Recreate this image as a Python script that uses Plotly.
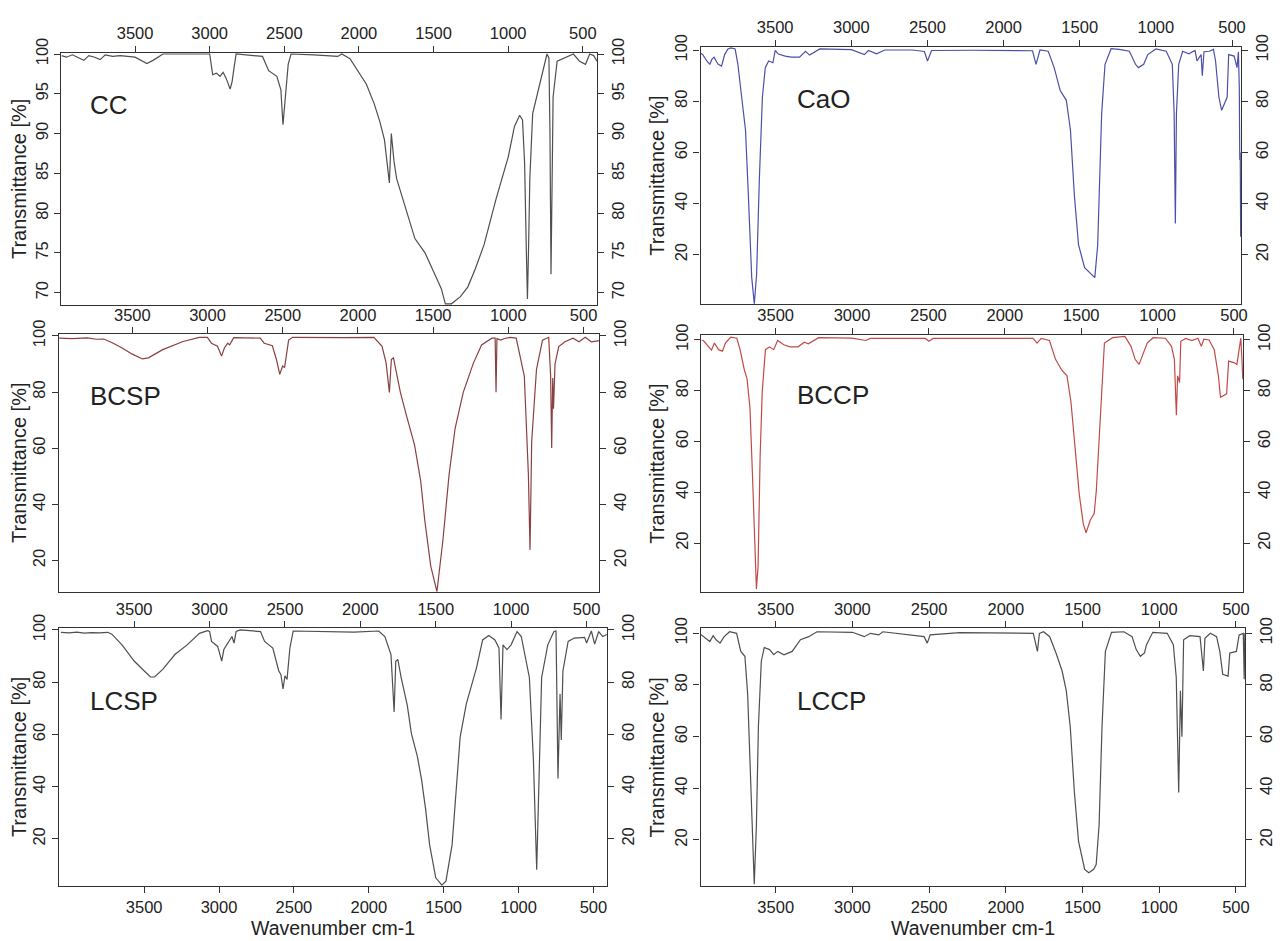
import plotly.graph_objects as go

# FTIR spectra: (wavenumber cm-1, transmittance %)
cc = [(3993, 99.8), (3960, 99.6), (3920, 99.9), (3880, 99.5), (3843, 99.2), (3810, 99.8), (3770, 99.6),
      (3734, 99.3), (3700, 99.9), (3650, 99.7), (3600, 99.8), (3500, 99.6), (3450, 99.1), (3421, 98.8),
      (3380, 99.2), (3313, 100), (3000, 100), (2980, 97.4), (2955, 97.6), (2931, 97.2), (2910, 97.7),
      (2891, 97.0), (2863, 95.6), (2850, 96.5), (2835, 98.5), (2823, 100), (2646, 99.7), (2605, 97.9),
      (2550, 97.2), (2523, 95.5), (2509, 91.1), (2496, 94.1), (2474, 98.7), (2455, 100), (2300, 99.9),
      (2142, 99.7), (2115, 100), (2060, 99.4), (2006, 97.9), (1950, 96.2), (1897, 93.7), (1860, 91.5),
      (1829, 89.2), (1810, 86.5), (1796, 83.8), (1783, 90.0), (1765, 86.5), (1747, 84.3), (1710, 82.0),
      (1679, 80.1), (1625, 76.8), (1557, 75.0), (1520, 73.5), (1489, 72.1), (1448, 70.5), (1421, 68.6),
      (1380, 68.6), (1320, 69.5), (1271, 70.7), (1220, 73.0), (1162, 76.0), (1081, 81.8), (999, 87.1),
      (958, 90.9), (923, 92.3), (904, 91.7), (890, 86.3), (878, 75.0), (871, 69.2), (863, 76.0),
      (855, 84.3), (836, 92.5), (781, 96.6), (740, 100), (727, 99.5), (720, 90.0), (713, 72.3),
      (706, 85.0), (699, 94.6), (672, 99.1), (591, 99.7), (563, 100), (522, 99.1), (482, 98.7),
      (454, 100), (427, 99.8), (405, 99.1)]

cao = [(3988, 98.8), (3976, 98.3), (3945, 95.5), (3929, 94.5), (3915, 96.5), (3901, 97.3), (3885, 95.5),
       (3874, 94.5), (3852, 93.8), (3832, 98.3), (3810, 100.5), (3791, 100.9), (3763, 100.5), (3745, 94.5),
       (3720, 81.6), (3695, 68.8), (3676, 43.1), (3654, 11.0), (3637, 0.7), (3622, 12.3), (3604, 49.5),
       (3584, 81.6), (3565, 93.2), (3543, 95.8), (3515, 95.1), (3500, 99.9), (3479, 98.5), (3434, 97.7),
       (3394, 97.3), (3340, 97.3), (3301, 99.6), (3274, 98.1), (3207, 100.5), (3100, 100.3), (3000, 100.2),
       (2914, 98.3), (2888, 99.9), (2834, 98.6), (2781, 100.1), (2600, 100.1), (2520, 99.5), (2500, 95.8),
       (2473, 99.9), (2200, 100), (1900, 100), (1810, 99.8), (1787, 94.5), (1761, 100.1), (1707, 99.6),
       (1668, 93.2), (1628, 84.2), (1588, 80.4), (1561, 68.8), (1535, 43.1), (1508, 23.9), (1468, 14.9),
       (1401, 11.0), (1382, 23.9), (1356, 75.2), (1334, 94.5), (1294, 100.6), (1241, 100.3), (1174, 99.6),
       (1134, 94.5), (1115, 93.2), (1080, 94.5), (1053, 98.3), (1000, 100.5), (932, 99.6), (892, 94.5),
       (880, 75.2), (872, 32.2), (865, 75.0), (850, 94.5), (824, 99.6), (784, 98.6), (743, 99.9),
       (730, 95.8), (703, 98.3), (695, 90.0), (684, 99.4), (649, 99.6), (622, 100.3), (608, 95.8),
       (586, 81.6), (568, 76.5), (532, 81.6), (522, 98.3), (486, 97.7), (467, 93.2), (458, 99.4),
       (452, 85.0), (449, 57.0), (446, 60.0), (443, 27.0)]

bcsp = [(3987, 99.2), (3900, 99.0), (3800, 99.3), (3740, 98.8), (3690, 98.9), (3630, 97.5), (3568, 95.7),
        (3500, 93.5), (3433, 91.8), (3393, 92.2), (3298, 95.1), (3163, 98.0), (3055, 99.5), (3001, 99.5),
        (2974, 97.4), (2934, 96.3), (2907, 92.8), (2888, 95.7), (2866, 97.4), (2853, 96.8), (2826, 99.4),
        (2650, 99.2), (2623, 97.4), (2569, 96.5), (2542, 91.6), (2520, 86.3), (2501, 89.3), (2488, 88.7),
        (2461, 98.5), (2434, 99.5), (2100, 99.4), (1894, 99.5), (1840, 96.3), (1813, 90.4), (1791, 79.9),
        (1778, 91.6), (1764, 92.2), (1718, 79.9), (1678, 71.7), (1624, 61.2), (1583, 48.4), (1556, 34.4),
        (1516, 18.0), (1475, 8.9), (1435, 27.4), (1394, 50.7), (1354, 67.1), (1300, 79.9), (1232, 90.4),
        (1178, 96.8), (1110, 99.2), (1088, 99.2), (1082, 79.9), (1076, 99.0), (1050, 98.5), (1030, 99.0),
        (989, 99.5), (948, 99.2), (894, 85.7), (867, 50.7), (856, 23.8), (845, 62.4), (813, 88.1),
        (773, 98.5), (732, 99.5), (719, 85.7), (712, 60.1), (705, 85.0), (700, 74.1), (690, 90.0),
        (665, 96.2), (624, 97.9), (570, 99.2), (530, 97.9), (489, 99.5), (449, 97.9), (395, 98.3)]

bccp = [(3985, 99.8), (3973, 99.7), (3941, 97.4), (3920, 95.9), (3901, 98.7), (3874, 96.1), (3848, 95.5),
        (3829, 98.7), (3794, 101.0), (3754, 100.6), (3733, 96.1), (3706, 88.4), (3687, 84.5), (3668, 72.9),
        (3652, 47.1), (3639, 21.3), (3626, 2.0), (3615, 11.0), (3602, 53.6), (3588, 79.4), (3567, 96.1),
        (3540, 97.2), (3513, 96.1), (3487, 99.7), (3447, 98.0), (3406, 97.2), (3353, 97.2), (3313, 99.0),
        (3286, 98.4), (3219, 100.8), (3000, 100.6), (2912, 99.7), (2880, 100.5), (2520, 100.5), (2497, 99.4),
        (2470, 100.5), (1850, 100.5), (1815, 100.5), (1789, 98.7), (1762, 100.5), (1708, 99.7), (1668, 92.3),
        (1628, 88.1), (1593, 85.8), (1567, 75.5), (1540, 57.4), (1513, 39.4), (1487, 27.8), (1468, 24.1),
        (1441, 29.0), (1415, 31.6), (1401, 40.7), (1374, 72.9), (1348, 98.7), (1294, 100.8), (1214, 101.3),
        (1174, 97.4), (1147, 92.3), (1121, 90.3), (1094, 94.2), (1068, 98.7), (1029, 100.8), (949, 100.6),
        (909, 97.4), (890, 92.3), (877, 70.3), (869, 85.8), (856, 83.2), (848, 99.4), (816, 100.5),
        (776, 99.7), (736, 100.6), (714, 97.4), (697, 100.2), (663, 99.9), (629, 96.1), (602, 85.8),
        (588, 77.4), (548, 78.7), (535, 91.6), (500, 91.0), (481, 90.3), (469, 94.8), (455, 100.6),
        (448, 92.3), (445, 89.7), (442, 84.5)]

lcsp = [(4056, 99.1), (4000, 98.9), (3950, 99.2), (3900, 98.8), (3850, 99.0), (3800, 98.9), (3743, 99.1),
        (3716, 98.4), (3648, 94.3), (3567, 88.1), (3499, 84.3), (3458, 82.0), (3431, 82.0), (3376, 84.9),
        (3295, 90.6), (3213, 94.3), (3131, 98.7), (3077, 99.7), (3063, 99.4), (3050, 95.6), (3009, 93.7),
        (2982, 88.1), (2968, 92.5), (2941, 95.0), (2914, 97.5), (2900, 95.0), (2886, 99.4), (2859, 100.0),
        (2723, 99.4), (2696, 95.6), (2669, 94.3), (2641, 93.1), (2601, 84.3), (2587, 83.0), (2573, 77.4),
        (2560, 82.4), (2546, 81.1), (2527, 93.1), (2505, 99.6), (2300, 99.5), (2100, 99.2), (1934, 99.6),
        (1893, 97.5), (1852, 90.6), (1831, 68.6), (1820, 88.0), (1806, 88.7), (1784, 81.8), (1743, 71.1),
        (1716, 60.4), (1676, 51.6), (1648, 42.8), (1621, 31.5), (1594, 17.7), (1553, 5.1), (1512, 2.3),
        (1485, 3.8), (1444, 17.7), (1417, 40.3), (1390, 59.1), (1349, 71.7), (1308, 80.5), (1281, 85.5),
        (1240, 96.2), (1199, 97.9), (1158, 96.2), (1131, 93.1), (1117, 65.7), (1104, 94.3), (1077, 92.5),
        (1050, 94.3), (1010, 99.4), (982, 97.5), (928, 81.8), (901, 50.3), (879, 8.2), (860, 50.3),
        (846, 81.8), (805, 94.3), (764, 99.4), (750, 99.6), (737, 43.1), (723, 75.5), (715, 57.9),
        (704, 84.3), (669, 95.6), (628, 96.9), (559, 97.2), (546, 95.0), (514, 99.6), (492, 94.6),
        (465, 99.4), (438, 97.5), (410, 98.3)]

lccp = [(3989, 99.6), (3957, 98.1), (3930, 96.8), (3908, 99.1), (3889, 97.5), (3863, 96.2), (3836, 98.7),
        (3801, 100.6), (3755, 100.0), (3728, 93.0), (3701, 91.1), (3683, 76.5), (3667, 51.1), (3653, 25.7),
        (3640, 2.8), (3626, 25.7), (3613, 63.8), (3594, 89.2), (3575, 94.5), (3540, 93.7), (3513, 91.7),
        (3487, 93.0), (3446, 91.7), (3393, 93.0), (3339, 97.5), (3285, 98.7), (3231, 100.6), (3000, 100.4),
        (2923, 98.7), (2882, 100.0), (2828, 99.4), (2802, 100.6), (2533, 98.7), (2512, 96.2), (2493, 99.4),
        (2300, 100.3), (1821, 100.0), (1794, 93.0), (1781, 100.0), (1754, 100.6), (1714, 98.7), (1673, 92.4),
        (1633, 85.4), (1606, 77.8), (1580, 63.8), (1553, 38.4), (1526, 19.4), (1486, 8.6), (1459, 7.3),
        (1427, 8.6), (1411, 10.5), (1392, 25.7), (1373, 63.8), (1351, 93.0), (1311, 100.4), (1230, 100.6),
        (1177, 98.7), (1150, 93.7), (1123, 91.1), (1096, 92.4), (1083, 95.6), (1042, 100.4), (948, 100.0),
        (908, 95.6), (889, 82.9), (873, 38.4), (862, 77.8), (852, 60.0), (841, 97.5), (801, 99.1),
        (734, 98.7), (712, 85.4), (702, 98.1), (667, 100.0), (626, 98.7), (605, 93.0), (586, 84.1),
        (551, 83.4), (540, 92.4), (497, 93.0), (479, 99.4), (452, 100.0), (446, 82.2), (442, 100.0)]

X_TICKS = [3500, 3000, 2500, 2000, 1500, 1000, 500]
CC_Y_TICKS = [70, 75, 80, 85, 90, 95, 100]
Y_TICKS = [20, 40, 60, 80, 100]

# page body has an 8px margin, so the figure starts 8px into the window
PAD = 8
W, H = 1282 - PAD, 941 - PAD
FONT = "Liberation Sans, Arial, sans-serif"
AX = "#333333"
TXT = "#222222"


def px_x(v):
    return (v - PAD) / W


def px_y(v):
    return 1 - (v - PAD) / H


# box = (left, right, top, bottom) in window pixels
panels = [
    dict(name="CC", data=cc, color="#4f4f4f", box=(61.7, 599.3, 38.3, 295), xr=(3993, 405), xt=(3993, 405),
         yr=(68.4, 100.15), yt=CC_Y_TICKS, lab=(88, 91), bottom=False),
    dict(name="CaO", data=cao, color="#4a4fa8", box=(703.3, 1246, 32.3, 293.3), xr=(3990, 440), xt=(3990, 440),
         yr=(0.8, 101.3), yt=Y_TICKS, lab=(798, 85), bottom=False),
    dict(name="BCSP", data=bcsp, color="#8a4040", box=(59.3, 601.7, 324.3, 586), xr=(3987, 395), xt=(3987, 395),
         yr=(8.9, 100.6), yt=Y_TICKS, lab=(88, 387), bottom=False),
    dict(name="BCCP", data=bccp, color="#c24a48", box=(704, 1248, 325, 586), xr=(3987, 440), xt=(3987, 440),
         yr=(0.9, 101.9), yt=Y_TICKS, lab=(798, 386), bottom=False),
    dict(name="LCSP", data=lcsp, color="#4f4f4f", box=(59, 609.3, 623.3, 885), xr=(4070, 410), xt=(4000, 365),
         yr=(2.0, 100.6), yt=Y_TICKS, lab=(88, 697), bottom=True),
    dict(name="LCCP", data=lccp, color="#4f4f4f", box=(703.3, 1250, 623.3, 885), xr=(3990, 440), xt=(3990, 440),
         yr=(2.2, 101.9), yt=Y_TICKS, lab=(798, 697), bottom=True),
]

tick_font = dict(family=FONT, size=16.5, color=TXT)
fig = go.Figure()
layout_axes = {}
annotations = []


def ax_key(letter, k):
    return letter if k == 1 else "{}{}".format(letter, k)


for i, p in enumerate(panels):
    k = i + 1
    kt = k + 6
    wn = [a for a, b in p["data"]]
    tr = [b for a, b in p["data"]]
    fig.add_trace(go.Scatter(x=wn, y=tr, mode="lines", line=dict(color=p["color"], width=1.2),
                             xaxis=ax_key("x", k), yaxis=ax_key("y", k), showlegend=False,
                             name=p["name"]))
    # empty trace so the top / right axes get drawn
    fig.add_trace(go.Scatter(x=[None], y=[None], xaxis=ax_key("x", kt), yaxis=ax_key("y", kt),
                             showlegend=False, hoverinfo="skip"))

    x0, x1, y0, y1 = p["box"]
    xdom = [px_x(x0), px_x(x1)]
    ydom = [px_y(y1), px_y(y0)]
    common = dict(showgrid=False, zeroline=False, tickcolor=AX, ticklen=6, tickwidth=1, tickfont=tick_font)

    layout_axes[ax_key("xaxis", k)] = dict(domain=xdom, anchor=ax_key("y", k), range=list(p["xr"]),
                                           tickvals=X_TICKS, showline=True, mirror=True, linecolor=AX,
                                           linewidth=1.2, ticks="outside" if p["bottom"] else "",
                                           showticklabels=p["bottom"], **common)
    layout_axes[ax_key("yaxis", k)] = dict(domain=ydom, anchor=ax_key("x", k), range=list(p["yr"]),
                                           tickvals=p["yt"], showline=True, mirror=True, linecolor=AX,
                                           linewidth=1.2, ticks="outside", tickangle=-90, **common)
    layout_axes[ax_key("xaxis", kt)] = dict(overlaying=ax_key("x", k), anchor=ax_key("y", k), side="top",
                                            range=list(p["xt"]), tickvals=X_TICKS, ticks="outside",
                                            showline=False, **common)
    layout_axes[ax_key("yaxis", kt)] = dict(overlaying=ax_key("y", k), anchor=ax_key("x", k), side="right",
                                            range=list(p["yr"]), tickvals=p["yt"], ticks="outside",
                                            tickangle=-90, showline=False, **common)

    annotations.append(dict(text=p["name"], x=px_x(p["lab"][0]), y=px_y(p["lab"][1]), xref="paper",
                            yref="paper", xanchor="left", yanchor="middle", showarrow=False,
                            font=dict(family=FONT, size=26, color=TXT)))
    title_x = 19 if x0 < 400 else 660
    annotations.append(dict(text="Transmittance [%]", x=px_x(title_x), y=px_y((y0 + y1) / 2), xref="paper",
                            yref="paper", xanchor="center", yanchor="middle", textangle=-90,
                            showarrow=False, font=dict(family=FONT, size=20, color=TXT)))
    if p["bottom"]:
        annotations.append(dict(text="Wavenumber cm-1", x=px_x((x0 + x1) / 2), y=px_y(928), xref="paper",
                                yref="paper", xanchor="center", yanchor="middle", showarrow=False,
                                font=dict(family=FONT, size=19.5, color=TXT)))

fig.update_layout(width=W, height=H, margin=dict(l=0, r=0, t=0, b=0), paper_bgcolor="white",
                  plot_bgcolor="white", font=dict(family=FONT, color=TXT), annotations=annotations,
                  **layout_axes)

fig.write_html("out.html")
